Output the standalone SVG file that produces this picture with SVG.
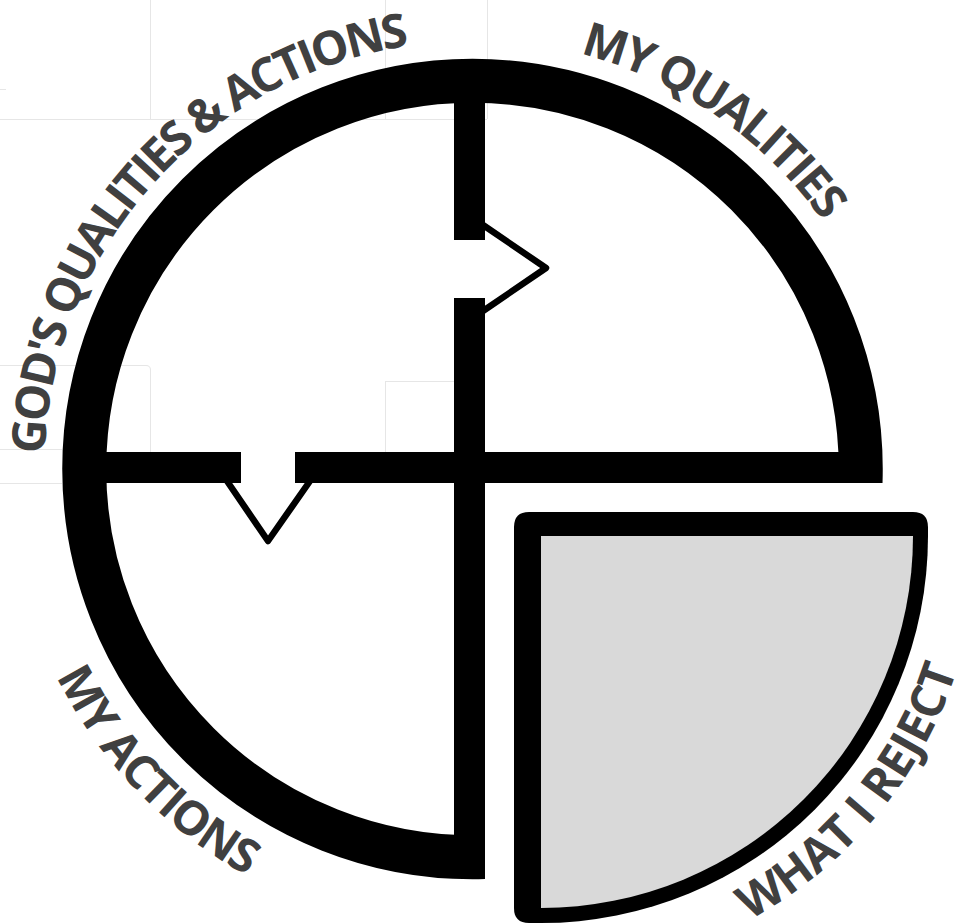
<svg xmlns="http://www.w3.org/2000/svg" width="962" height="923" viewBox="0 0 962 923">
  <style>
    .lbl { font-family: "Open Sans", "Liberation Sans", sans-serif; font-weight: 700; font-size: 47px; fill: #404040; }
    .bar { fill: #000; }
    .arrow { fill: none; stroke: #000; stroke-width: 6.5; stroke-linejoin: round; stroke-linecap: butt; }
    .grid { fill: none; stroke: #e6e6e6; stroke-width: 1; }
  </style>
  <defs>
    <clipPath id="ringClip">
      <polygon points="0,0 962,0 962,483 485,483 485,923 0,923"/>
    </clipPath>
    <path id="pGod" d="M 44.76,454.06 A 428 428 0 0 1 472.5,41"/>
    <path id="pMyQ" d="M 579.91,53.66 A 429 429 0 0 1 875.63,322.27"/>
    <path id="pMyA" d="M 56.36,676.48 A 465 465 0 0 0 391.75,926.94"/>
    <path id="pRej" d="M 749.52,920.04 A 437 437 0 0 0 965.02,641.72"/>
  </defs>
  <rect width="962" height="923" fill="#fff"/>

  <g id="background-grid" class="grid">
    <path d="M 0,119.5 H 487 M 150.5,0 V 119 M 385.5,0 V 119 M 487.5,0 V 119"/>
    <path d="M 0,365.5 H 146 Q 150.5,365.5 150.5,370 V 452 M 385.5,381.5 H 454 M 385.5,381 V 452"/>
    <path d="M 0,449.5 H 62 M 0,483.5 H 62 M 150.5,483 V 452 M 0,89.5 H 6"/>
  </g>

  <g id="wheel">
    <circle cx="472.5" cy="469" r="388.25" fill="none" stroke="#000" stroke-width="44" clip-path="url(#ringClip)"/>
  </g>

  <g id="connectors">
    <polyline class="arrow" points="483,225 546,268 483,311"/>
    <polyline class="arrow" points="227,481 268,541 310,481"/>
  </g>

  <g id="cross">
    <rect class="bar" x="90" y="452" width="151" height="31"/>
    <rect class="bar" x="295" y="452" width="565" height="31"/>
    <rect class="bar" x="454" y="80" width="31" height="160"/>
    <rect class="bar" x="454" y="298" width="31" height="562"/>
  </g>

  <g id="what-i-reject-area">
    <path d="M 529,512 L 913,512 Q 928,512 928,527 L 928,536 A 387 387 0 0 1 541,923 L 529,923 Q 514,923 514,908 L 514,527 Q 514,512 529,512 Z" fill="#000"/>
    <path d="M 541,536 L 913,536 A 372 372 0 0 1 541,908 Z" fill="#d9d9d9"/>
  </g>

  <g id="label-gods">
    <text class="lbl"><textPath href="#pGod" textLength="594" lengthAdjust="spacing">GOD'S QUALITIES &amp; ACTIONS</textPath></text>
  </g>
  <g id="label-my-qualities">
    <text class="lbl"><textPath href="#pMyQ" textLength="302" lengthAdjust="spacing">MY QUALITIES</textPath></text>
  </g>
  <g id="label-my-actions">
    <text class="lbl"><textPath href="#pMyA" textLength="280" lengthAdjust="spacing">MY ACTIONS</textPath></text>
  </g>
  <g id="label-what-i-reject">
    <text class="lbl"><textPath href="#pRej" textLength="333" lengthAdjust="spacing">WHAT I REJECT</textPath></text>
  </g>
</svg>
